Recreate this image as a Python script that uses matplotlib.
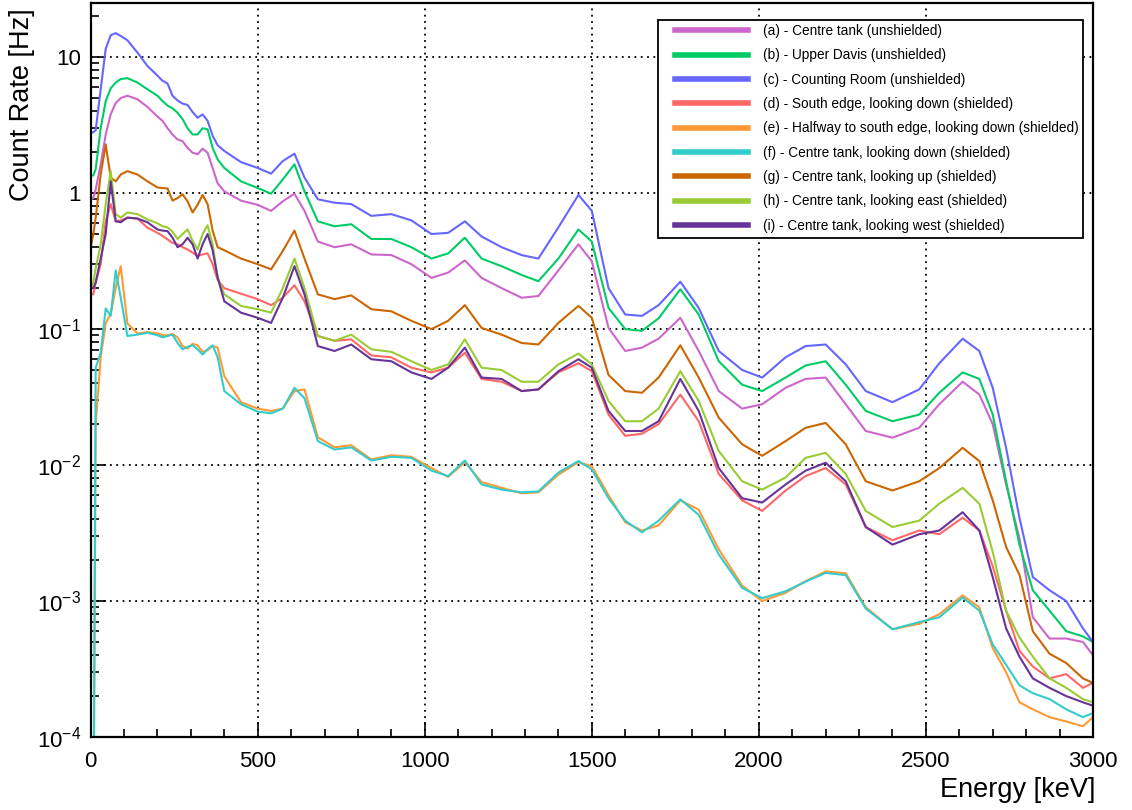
import matplotlib
import numpy as np

matplotlib.use("Agg")
import matplotlib.pyplot as plt
from matplotlib.patches import Rectangle
from matplotlib.ticker import FixedLocator, LogLocator, NullFormatter

energy = [0, 8, 15, 30, 45, 60, 75, 90, 110, 140, 170,
          200, 215, 230, 245, 260, 275, 290, 305, 320, 335, 350, 365, 380, 400,
          450, 500, 540, 575, 610, 640, 680, 730, 780, 840,
          900, 960, 1020, 1070, 1120, 1170, 1230, 1290, 1340, 1400,
          1460, 1500, 1550, 1600, 1650, 1700, 1765, 1820, 1880, 1950,
          2010, 2080, 2140, 2200, 2260, 2320, 2400, 2480, 2540, 2610,
          2660, 2700, 2740, 2780, 2820, 2870, 2920, 2970, 3000]

# count rates [Hz]
rate_a = [0.9, 0.92, 1.06, 1.63, 2.7, 3.8, 4.6, 5.0, 5.2, 4.9, 4.3,
          3.65, 3.4, 3.0, 2.7, 2.48, 2.41, 2.15, 1.98, 1.93, 2.12, 1.98, 1.53, 1.18, 1.03,
          0.88, 0.82, 0.74, 0.87, 0.99, 0.74, 0.44, 0.40, 0.42, 0.354,
          0.35, 0.30, 0.238, 0.26, 0.32, 0.238, 0.20, 0.17, 0.175, 0.27,
          0.42, 0.316, 0.102, 0.069, 0.073, 0.085, 0.121, 0.069, 0.035, 0.026,
          0.028, 0.037, 0.043, 0.044, 0.028, 0.0178, 0.0159, 0.0188, 0.028, 0.041,
          0.033, 0.020, 0.0072, 0.0029, 0.00076, 0.00053, 0.00053, 0.0005, 0.0004]
rate_b = [1.33, 1.35, 1.5, 3.0, 4.75, 5.9, 6.5, 6.9, 7.0, 6.5, 5.8,
          5.2, 4.75, 4.4, 4.2, 3.9, 3.5, 3.0, 2.7, 2.7, 3.0, 2.94, 2.15, 1.77, 1.53,
          1.22, 1.09, 0.99, 1.26, 1.63, 1.03, 0.62, 0.57, 0.59, 0.46,
          0.46, 0.40, 0.33, 0.36, 0.47, 0.33, 0.29, 0.25, 0.225, 0.33,
          0.54, 0.44, 0.143, 0.10, 0.097, 0.12, 0.196, 0.128, 0.058, 0.039,
          0.035, 0.044, 0.054, 0.058, 0.039, 0.025, 0.021, 0.0235, 0.034, 0.048,
          0.043, 0.0235, 0.0076, 0.0026, 0.0012, 0.00085, 0.0006, 0.00055, 0.0005]
rate_c = [2.8, 2.8, 2.9, 5.8, 11.5, 14.5, 15.0, 14.3, 13.3, 10.8, 8.6,
          7.3, 6.7, 6.4, 5.2, 4.8, 4.55, 4.45, 3.95, 3.58, 3.79, 3.4, 2.64, 2.25, 2.04,
          1.69, 1.53, 1.39, 1.72, 1.95, 1.3, 0.90, 0.85, 0.83, 0.68,
          0.70, 0.63, 0.50, 0.51, 0.62, 0.48, 0.40, 0.35, 0.33, 0.56,
          0.97, 0.74, 0.20, 0.128, 0.125, 0.15, 0.223, 0.143, 0.069, 0.050,
          0.044, 0.062, 0.075, 0.077, 0.055, 0.035, 0.029, 0.036, 0.056, 0.085,
          0.069, 0.037, 0.0134, 0.0041, 0.0015, 0.0012, 0.0010, 0.00063, 0.0005]
rate_d = [0.18, 0.18, 0.22, 0.30, 0.62, 0.83, 0.62, 0.63, 0.66, 0.65, 0.556,
          0.51, 0.485, 0.457, 0.43, 0.42, 0.40, 0.385, 0.365, 0.344, 0.354, 0.36, 0.30, 0.23, 0.20,
          0.182, 0.166, 0.15, 0.17, 0.21, 0.16, 0.089, 0.082, 0.084, 0.064,
          0.062, 0.052, 0.048, 0.052, 0.067, 0.043, 0.041, 0.035, 0.036, 0.048,
          0.056, 0.049, 0.0235, 0.0164, 0.017, 0.020, 0.033, 0.021, 0.0086, 0.0055,
          0.0046, 0.0065, 0.0083, 0.0095, 0.0072, 0.0035, 0.0028, 0.0033, 0.0031, 0.0041,
          0.0033, 0.0018, 0.00085, 0.00043, 0.00033, 0.00027, 0.00029, 0.00023, 0.00025]
rate_e = [1e-5, 1e-5, 0.02, 0.062, 0.11, 0.13, 0.20, 0.29, 0.11, 0.093, 0.095,
          0.093, 0.090, 0.090, 0.092, 0.087, 0.075, 0.072, 0.078, 0.076, 0.068, 0.070, 0.075, 0.073, 0.045,
          0.029, 0.026, 0.025, 0.026, 0.035, 0.036, 0.016, 0.0135, 0.014, 0.011,
          0.0118, 0.0115, 0.0095, 0.0082, 0.0105, 0.0075, 0.0068, 0.0062, 0.0063, 0.0085,
          0.0105, 0.0098, 0.006, 0.0038, 0.0033, 0.0036, 0.0055, 0.0047, 0.0024, 0.0013,
          0.001, 0.00115, 0.0014, 0.00165, 0.0016, 0.0009, 0.00062, 0.00068, 0.0008, 0.0011,
          0.0009, 0.00045, 0.0003, 0.00018, 0.00016, 0.00014, 0.00013, 0.00012, 0.00014]
rate_f = [1e-5, 1e-5, 0.052, 0.067, 0.142, 0.125, 0.27, 0.17, 0.089, 0.091, 0.094,
          0.090, 0.087, 0.089, 0.091, 0.079, 0.071, 0.074, 0.076, 0.071, 0.065, 0.071, 0.076, 0.062, 0.035,
          0.028, 0.0247, 0.024, 0.026, 0.037, 0.031, 0.015, 0.013, 0.0135, 0.0108,
          0.0115, 0.0113, 0.0091, 0.0083, 0.0108, 0.0072, 0.0066, 0.0063, 0.0064, 0.0088,
          0.0107, 0.0093, 0.0057, 0.0039, 0.0032, 0.0039, 0.0056, 0.0043, 0.0022, 0.00125,
          0.00105, 0.00118, 0.00139, 0.00161, 0.00155, 0.00088, 0.00062, 0.0007, 0.00076, 0.00106,
          0.00085, 0.00048, 0.00034, 0.00024, 0.00021, 0.00019, 0.00016, 0.00014, 0.00015]
rate_g = [0.4, 0.5, 0.66, 1.37, 2.28, 1.3, 1.22, 1.37, 1.45, 1.37, 1.22,
          1.1, 1.09, 1.08, 0.88, 0.92, 0.98, 0.87, 0.72, 0.82, 0.97, 0.83, 0.53, 0.40, 0.38,
          0.33, 0.30, 0.275, 0.375, 0.53, 0.33, 0.18, 0.166, 0.177, 0.14,
          0.135, 0.115, 0.10, 0.115, 0.15, 0.102, 0.091, 0.079, 0.077, 0.111,
          0.148, 0.121, 0.046, 0.035, 0.034, 0.044, 0.076, 0.044, 0.0223, 0.0142,
          0.0117, 0.015, 0.0188, 0.0204, 0.0142, 0.0076, 0.0065, 0.0076, 0.0095, 0.0134,
          0.0107, 0.0055, 0.0025, 0.00156, 0.0006, 0.00041, 0.00035, 0.00027, 0.00025]
rate_h = [0.2, 0.22, 0.28, 0.42, 0.83, 1.45, 0.70, 0.66, 0.72, 0.70, 0.64,
          0.60, 0.57, 0.56, 0.52, 0.46, 0.50, 0.54, 0.445, 0.385, 0.50, 0.58, 0.42, 0.24, 0.18,
          0.148, 0.14, 0.132, 0.20, 0.33, 0.20, 0.089, 0.082, 0.091, 0.071,
          0.068, 0.058, 0.050, 0.055, 0.084, 0.052, 0.050, 0.041, 0.041, 0.055,
          0.066, 0.055, 0.0296, 0.021, 0.021, 0.026, 0.049, 0.0296, 0.0127, 0.0076,
          0.0066, 0.0081, 0.0113, 0.0123, 0.0086, 0.0046, 0.0035, 0.0039, 0.0052, 0.0068,
          0.0052, 0.0023, 0.00085, 0.00054, 0.00039, 0.00027, 0.00023, 0.00019, 0.00018]
rate_i = [0.2, 0.2, 0.22, 0.33, 0.50, 1.22, 0.62, 0.61, 0.66, 0.65, 0.61,
          0.54, 0.53, 0.525, 0.47, 0.40, 0.42, 0.47, 0.42, 0.33, 0.42, 0.50, 0.38, 0.24, 0.16,
          0.132, 0.121, 0.111, 0.17, 0.29, 0.18, 0.075, 0.069, 0.077, 0.06,
          0.058, 0.048, 0.043, 0.052, 0.073, 0.044, 0.043, 0.035, 0.036, 0.049,
          0.06, 0.052, 0.025, 0.0178, 0.0178, 0.021, 0.043, 0.025, 0.0095, 0.0057,
          0.0053, 0.0072, 0.0091, 0.0104, 0.0076, 0.0035, 0.0026, 0.0031, 0.0033, 0.0045,
          0.0033, 0.0015, 0.00063, 0.00039, 0.00027, 0.00023, 0.0002, 0.00018, 0.00017]

labels = [
    "(a) - Centre tank (unshielded)",
    "(b) - Upper Davis (unshielded)",
    "(c) - Counting Room (unshielded)",
    "(d) - South edge, looking down (shielded)",
    "(e) - Halfway to south edge, looking down (shielded)",
    "(f) - Centre tank, looking down (shielded)",
    "(g) - Centre tank, looking up (shielded)",
    "(h) - Centre tank, looking east (shielded)",
    "(i) - Centre tank, looking west (shielded)",
]
colors = ["#cc66cc", "#00cc66", "#6666ff", "#ff6666", "#ff9933",
          "#33cccc", "#cc6600", "#99cc33", "#663399"]
series = [rate_a, rate_b, rate_c, rate_d, rate_e, rate_f, rate_g, rate_h, rate_i]

plt.rcParams["font.family"] = ["Liberation Sans", "DejaVu Sans"]
plt.rcParams["mathtext.fontset"] = "custom"
plt.rcParams["mathtext.rm"] = "Liberation Sans"

W, H = 1132, 810
fig = plt.figure(figsize=(W / 100, H / 100), dpi=100)
ax = fig.add_axes([0.0801, 0.0901, 0.8854, 0.9062])

lines = []
for vals, col, lab in zip(series, colors, labels):
    (ln,) = ax.plot(energy, vals, color=col, lw=1.5, label=lab)
    lines.append(ln)

ax.set_yscale("log")
ax.set_xlim(0, 3000)
ax.set_ylim(1e-4, 25)

ax.xaxis.set_major_locator(FixedLocator([0, 500, 1000, 1500, 2000, 2500, 3000]))
ax.xaxis.set_minor_locator(FixedLocator(np.arange(0, 3001, 100)))
ax.set_xticklabels(["0", "500", "1000", "1500", "2000", "2500", "3000"])
ax.yaxis.set_major_locator(FixedLocator([1e-4, 1e-3, 1e-2, 1e-1, 1, 10]))
ax.set_yticklabels([r"$10^{-4}$", r"$10^{-3}$", r"$10^{-2}$", r"$10^{-1}$", "1", "10"])
ax.yaxis.set_minor_locator(LogLocator(base=10, subs=np.arange(2, 10)))
ax.yaxis.set_minor_formatter(NullFormatter())

ax.tick_params(which="both", direction="in", labelsize=16, width=1.2)
ax.tick_params(which="major", length=11)
ax.tick_params(which="minor", length=5.5)
ax.tick_params(axis="x", pad=10)
ax.tick_params(axis="y", pad=7)

ax.grid(True, which="major", color="black", linestyle=(0, (1, 2.5)), linewidth=1.3)
for sp in ax.spines.values():
    sp.set_linewidth(1.6)

fig.text(22 / W, 1 - 8 / H, "Count Rate [Hz]", rotation=90,
         ha="center", va="top", fontsize=19.5)
fig.text(1095 / W, 1 - 790 / H, "Energy [keV]", ha="right", va="center",
         fontsize=19.5)

# legend box drawn by hand so that its padding matches the reference
box = Rectangle((658 / W, 1 - 238 / H), 425 / W, 218 / H,
                transform=fig.transFigure, facecolor="white",
                edgecolor="black", linewidth=1.3, zorder=4, clip_on=False)
ax.add_patch(box)
leg = ax.legend(handles=lines, loc="upper left",
                bbox_to_anchor=(675 / W, 1 - 24 / H),
                bbox_transform=fig.transFigure,
                prop={"family": "Liberation Sans", "size": 9.8},
                frameon=False, handlelength=5.37, handletextpad=1.1,
                labelspacing=0.76, borderpad=0, borderaxespad=0)
leg.set_zorder(6)
for ln in leg.get_lines():
    ln.set_linewidth(4)

fig.savefig("out.png", dpi=100)
